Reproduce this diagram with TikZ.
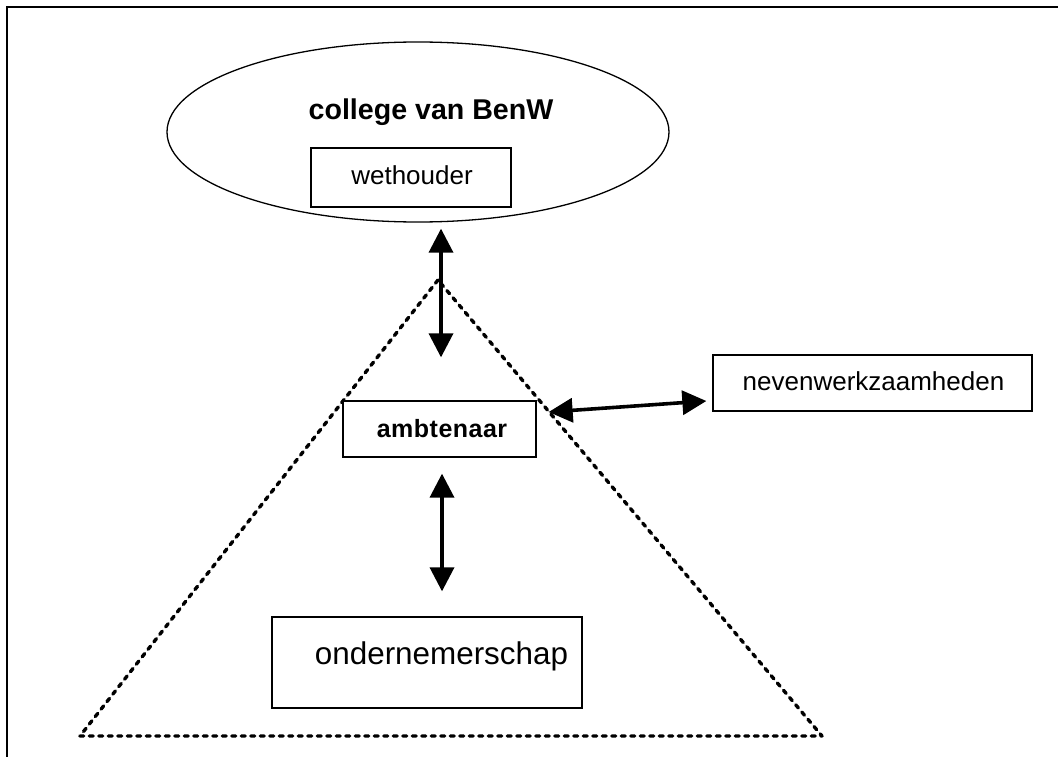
\documentclass[tikz,border=0pt]{standalone}
\usepackage{fontspec}
\setmainfont{Liberation Sans}
\usetikzlibrary{shapes.geometric,arrows.meta,calc}

\tikzset{
  box/.style={draw, line width=1.3pt, inner sep=0pt, rectangle},
  lbl/.style={inner sep=0pt, font=\fontsize{26}{30}\selectfont},
  dblarrow/.style={line width=3.6pt,
    {Triangle[length=24pt,width=24pt]}-{Triangle[length=24pt,width=24pt]}},
  pyramid/.style={line width=3.4pt, line cap=round, line join=round,
    dash pattern=on 4pt off 5.5pt},
  frame/.style={line width=2pt}
}

\begin{document}
\begin{tikzpicture}[x=1pt,y=-1pt]
  \useasboundingbox (0,0) rectangle (1058,757);

  % page frame (top and left edges)
  \coordinate (frTR) at (1058,7);
  \coordinate (frTL) at (7,7);
  \coordinate (frBL) at (7,757);
  \draw[frame] (frTR) -- (frTL) -- (frBL);

  % dashed pyramid
  \coordinate (apex) at (438,280);
  \coordinate (baseL) at (80,736);
  \coordinate (baseR) at (822,736);
  \draw[pyramid] (apex) -- (baseL) -- (baseR) -- cycle;

  % college ellipse
  \node[draw, ellipse, line width=1.3pt, minimum width=502pt, minimum height=180pt,
        inner sep=0pt] (college) at (418,132) {};
  \node[inner sep=0pt, font=\fontsize{28.6}{32}\selectfont\bfseries] (collegeTxt)
        at (431,112) {college van BenW};

  % boxes
  \node[box, minimum width=200pt, minimum height=59pt] (wethouder) at (411,177.5) {};
  \node[lbl] (wethouderTxt) at (412,175.5) {wethouder};

  \node[box, fill=white, minimum width=193pt, minimum height=56pt] (ambtenaar) at (439.5,429) {};
  \node[inner sep=0pt, font=\fontsize{25}{29}\selectfont\bfseries\addfontfeature{LetterSpace=2}]
        (ambtenaarTxt) at (442,429) {ambtenaar};

  \node[box, minimum width=319pt, minimum height=56pt] (neven) at (872.5,383) {};
  \node[lbl] (nevenTxt) at (873.5,381) {nevenwerkzaamheden};

  \node[box, minimum width=310pt, minimum height=91pt] (onder) at (427,662.5) {};
  \node[inner sep=0pt, font=\fontsize{31.4}{35}\selectfont] (onderTxt)
        at (441.5,656) {ondernemerschap};

  % connectors
  \draw[dblarrow] ($(wethouder.south)+(30,21)$) -- ($(ambtenaar.north)+(1.5,-43)$);
  \draw[dblarrow] ($(ambtenaar.east)+(12,-17)$) -- ($(neven.west)+(-6,18)$);
  \draw[dblarrow] ($(ambtenaar.south)+(2.5,16)$) -- ($(onder.north)+(15,-25)$);
\end{tikzpicture}
\end{document}
